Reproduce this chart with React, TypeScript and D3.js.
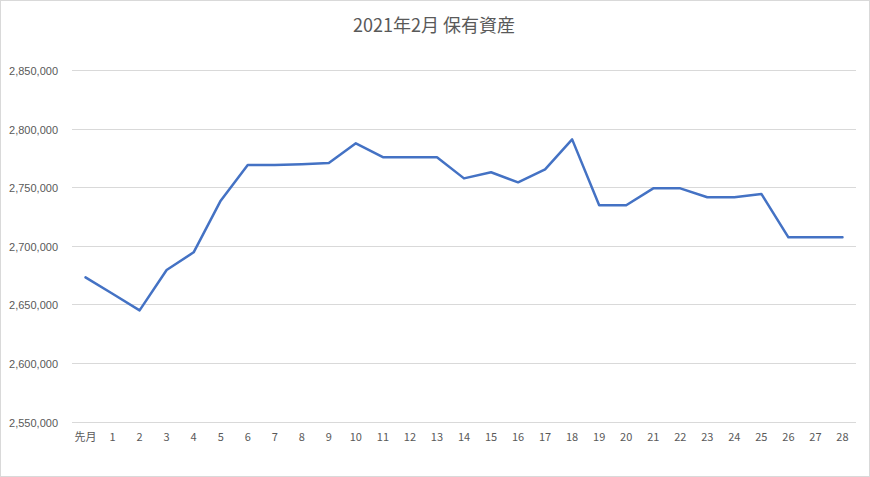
import React, { useEffect, useRef } from "react";
import * as d3 from "d3";

const categories: string[] = [
  "先月", "1", "2", "3", "4", "5", "6", "7", "8", "9", "10", "11", "12", "13", "14",
  "15", "16", "17", "18", "19", "20", "21", "22", "23", "24", "25", "26", "27", "28",
];

const holdings: number[] = [
  2673000, 2659000, 2644800, 2679300, 2694400, 2738500, 2768900, 2769000, 2769600, 2770600,
  2787400, 2775600, 2775600, 2775600, 2757500, 2762700, 2754100, 2765200, 2790800, 2734600,
  2734600, 2749000, 2749000, 2741400, 2741400, 2744200, 2707200, 2707200, 2707200,
];

const yTicks: number[] = [2550000, 2600000, 2650000, 2700000, 2750000, 2800000, 2850000];

const title = "2021年2月 保有資産";

const W = 870;
const H = 477;

export default function App() {
  const ref = useRef<SVGSVGElement | null>(null);

  useEffect(() => {
    const svg = d3.select(ref.current);
    svg.selectAll("*").remove();

    const left = 72;
    const right = 856;
    const top = 70;
    const bottom = 421.5;

    const x = d3.scaleBand<string>().domain(categories).range([left, right]).padding(0);
    const y = d3.scaleLinear().domain([2550000, 2850000]).range([bottom, top]);

    svg.append("rect")
      .attr("x", 0.5).attr("y", 0.5)
      .attr("width", W - 1).attr("height", H - 1)
      .attr("fill", "#fff").attr("stroke", "#d9d9d9").attr("stroke-width", 1);

    svg.append("text")
      .attr("x", 434).attr("y", 32)
      .attr("text-anchor", "middle")
      .attr("font-family", "'Noto Sans CJK JP', 'Noto Sans', sans-serif")
      .attr("font-size", 18)
      .attr("fill", "#595959")
      .text(title);

    const fmt = d3.format(",");

    const grid = svg.append("g");
    yTicks.forEach((t) => {
      const yy = Math.round(y(t)) + 0.5;
      grid.append("line")
        .attr("x1", left).attr("x2", right)
        .attr("y1", yy).attr("y2", yy)
        .attr("stroke", "#d9d9d9").attr("stroke-width", 1);
      grid.append("text")
        .attr("x", 58).attr("y", yy + 4)
        .attr("text-anchor", "end")
        .attr("font-family", "'Liberation Sans', Arial, sans-serif")
        .attr("font-size", 11)
        .attr("fill", "#595959")
        .text(fmt(t));
    });

    const xa = svg.append("g");
    categories.forEach((c) => {
      xa.append("text")
        .attr("x", (x(c) as number) + x.bandwidth() / 2)
        .attr("y", 441)
        .attr("text-anchor", "middle")
        .attr("font-family", "'Noto Sans CJK JP', 'Liberation Sans', sans-serif")
        .attr("font-size", 11)
        .attr("fill", "#595959")
        .text(c);
    });

    const line = d3.line<number>()
      .x((_, i) => (x(categories[i]) as number) + x.bandwidth() / 2)
      .y((d) => y(d));

    svg.append("path")
      .datum(holdings)
      .attr("d", line)
      .attr("fill", "none")
      .attr("stroke", "#4472C4")
      .attr("stroke-width", 2.5)
      .attr("stroke-linejoin", "round")
      .attr("stroke-linecap", "round");
  }, []);

  return (
    <svg
      ref={ref}
      width={W}
      height={H}
      style={{ position: "absolute", left: 0, top: 0, display: "block" }}
    />
  );
}
